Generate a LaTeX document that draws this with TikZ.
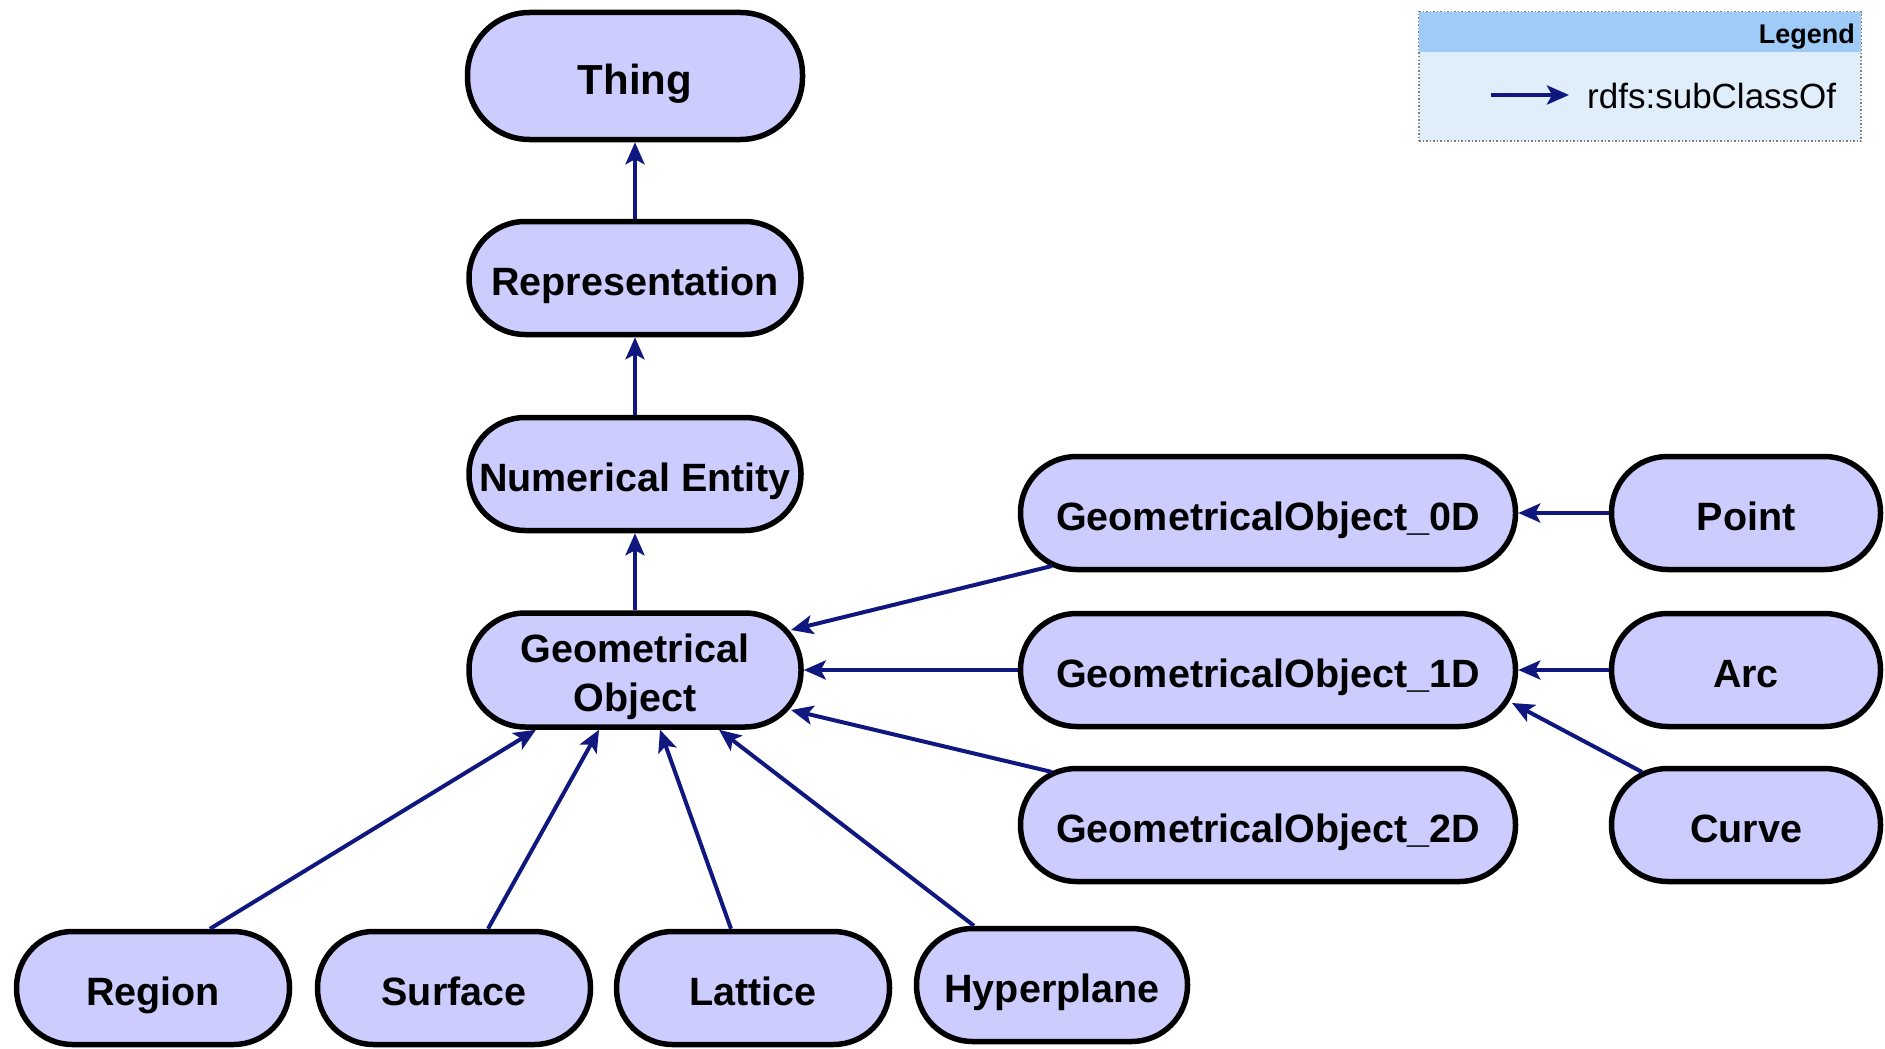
\documentclass[tikz,border=0pt]{standalone}
\usepackage{fontspec}
\setmainfont{Liberation Sans}
\usetikzlibrary{arrows.meta,calc}
\definecolor{nodefill}{RGB}{204,204,255}
\definecolor{arrowc}{RGB}{16,24,128}
\definecolor{legHead}{RGB}{158,203,247}
\definecolor{legBody}{RGB}{224,238,252}
\begin{document}
\begin{tikzpicture}[x=1pt,y=-1pt,
  cls/.style={draw=black, line width=5.5pt, fill=nodefill, rectangle, rounded corners=56pt,
    inner sep=0pt, minimum height=113pt, font=\fontsize{39.5}{49}\selectfont\bfseries, align=center,
    text height=34pt, text depth=0pt},
  gotext/.style={inner sep=0pt, font=\fontsize{39.5}{49}\selectfont\bfseries, align=center},
  sub/.style={draw=arrowc, line width=4pt, -{Stealth[length=22pt,width=19pt,inset=5pt]}}
]
\fill[white] (0,0) rectangle (1885,1049);
\useasboundingbox (0,0) rectangle (1885,1049);

% legend
\node[fill=legBody, draw=gray, dotted, line width=1.5pt, minimum width=442pt, minimum height=129pt, inner sep=0pt] (legend) at (1640,76.5) {};
\fill[legHead] ([xshift=1pt,yshift=-1pt]legend.north west) rectangle ([xshift=-1pt,yshift=-41pt]legend.north east);
\node[anchor=east, font=\fontsize{27}{32}\selectfont\bfseries, inner sep=0pt] (legtitle) at (1855,37) {Legend};
\coordinate (la) at (1491,95);
\coordinate (lb) at (1569,95);
\draw[sub] (la) -- (lb);
\node[anchor=west, font=\fontsize{35}{40}\selectfont, inner sep=0pt] (legtext) at (1587,96) {rdfs:subClassOf};

% nodes
\node[cls, minimum width=335pt, minimum height=127pt, font=\fontsize{42}{50}\selectfont\bfseries, text height=36pt, rounded corners=62pt] (thing) at (635,76) {Thing};
\node[cls, minimum width=332pt] (rep) at (635,278) {Representation};
\node[cls, minimum width=332pt] (num) at (635,474) {Numerical Entity};
\node[cls, minimum width=332pt, minimum height=114pt] (go) at (635,670) {};
\node[gotext] (golabel) at ([yshift=-7pt]go.center) {Geometrical\\Object};

\node[cls, minimum width=495pt] (go0) at (1268,513) {GeometricalObject\_0D};
\node[cls, minimum width=495pt] (go1) at (1268,670) {GeometricalObject\_1D};
\node[cls, minimum width=495pt] (go2) at (1268,825) {GeometricalObject\_2D};

\node[cls, minimum width=269pt] (point) at (1746,513) {Point};
\node[cls, minimum width=269pt] (arc) at (1746,670) {Arc};
\node[cls, minimum width=269pt] (curve) at (1746,825) {Curve};

\node[cls, minimum width=273pt] (region) at (153,988) {Region};
\node[cls, minimum width=273pt] (surface) at (454,988) {Surface};
\node[cls, minimum width=273pt] (lattice) at (753,988) {Lattice};
\node[cls, minimum width=271pt] (hyper) at (1052,985) {Hyperplane};

% connectors
\draw[sub] (rep) -- (thing);
\draw[sub] (num) -- (rep);
\draw[sub] (go) -- (num);
\draw[sub] ($(go0.center)+(-216,53)$) -- ($(go.center)+(156,-40)$);
\draw[sub] (go1) -- (go);
\draw[sub] ($(go2.center)+(-216,-53)$) -- ($(go.center)+(156,40)$);
\draw[sub] (point) -- (go0);
\draw[sub] (arc) -- (go1);
\draw[sub] ($(curve.center)+(-104,-53)$) -- ($(go1.center)+(244,33)$);
\draw[sub] ([xshift=57pt]region.north) -- ([xshift=-99pt]go.south);
\draw[sub] ([xshift=34pt]surface.north) -- ([xshift=-36pt]go.south);
\draw[sub] ([xshift=-22pt]lattice.north) -- ([xshift=25pt]go.south);
\draw[sub] ([xshift=-78pt]hyper.north) -- ([xshift=84pt]go.south);
\end{tikzpicture}
\end{document}
